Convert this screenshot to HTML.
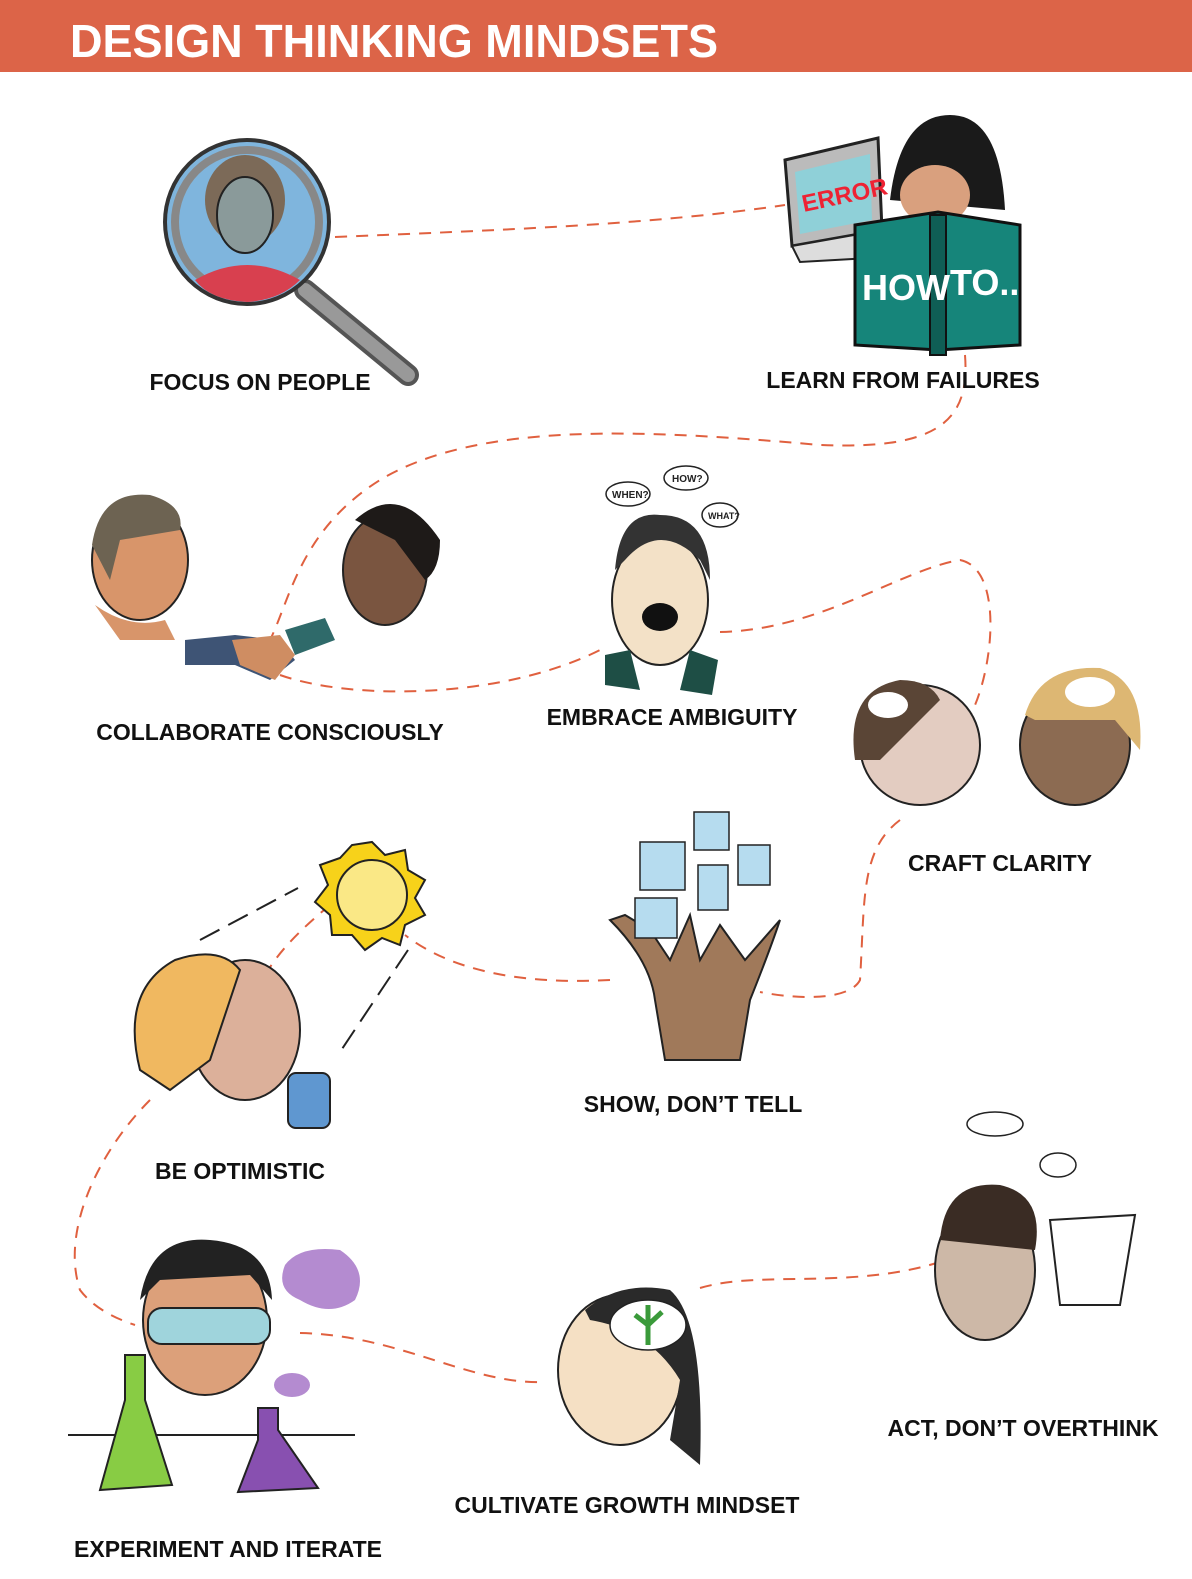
<!DOCTYPE html>
<html><head><meta charset="utf-8"><style>
html,body{margin:0;padding:0;background:#fff;}
svg{display:block}
text{font-family:"Liberation Sans",sans-serif;font-weight:bold;}
.l{font-size:23px;fill:#111;text-anchor:middle;}
</style></head><body>
<svg width="1192" height="1579" viewBox="0 0 1192 1579" xmlns="http://www.w3.org/2000/svg">
<rect x="0" y="0" width="1192" height="72" fill="#dc6448"/>
<text x="70" y="57" font-size="46" fill="#fff" textLength="648" lengthAdjust="spacingAndGlyphs">DESIGN THINKING MINDSETS</text>

<g fill="none" stroke="#e0603f" stroke-width="2" stroke-dasharray="12,9">
<path d="M335,237 C500,230 650,225 785,205"/>
<path d="M965,355 C970,420 940,450 820,445 C650,430 480,420 380,480 C300,530 290,600 270,640"/>
<path d="M280,675 C350,700 500,700 600,650"/>
<path d="M720,632 C820,630 900,570 960,560 C1010,570 990,700 960,730"/>
<path d="M900,820 C860,850 865,900 860,980 C850,1000 800,1000 760,992"/>
<path d="M610,980 C520,985 450,970 405,935"/>
<path d="M330,905 C300,930 280,950 265,975"/>
<path d="M150,1100 C100,1150 60,1230 80,1290 C95,1310 120,1320 135,1325"/>
<path d="M300,1333 C400,1335 470,1385 545,1382"/>
<path d="M700,1288 C760,1270 850,1290 940,1262"/>
</g>

<!-- magnifier -->
<line x1="305" y1="290" x2="408" y2="375" stroke="#555" stroke-width="22" stroke-linecap="round"/>
<line x1="305" y1="290" x2="408" y2="375" stroke="#999" stroke-width="14" stroke-linecap="round"/>
<circle cx="247" cy="222" r="82" fill="#7fb5dd" stroke="#333" stroke-width="4"/>
<circle cx="247" cy="222" r="72" fill="#7fb5dd" stroke="#888" stroke-width="8"/>
<ellipse cx="245" cy="200" rx="40" ry="45" fill="#7c6a58"/>
<ellipse cx="245" cy="215" rx="28" ry="38" fill="#8a9a9a" stroke="#222" stroke-width="2"/>
<path d="M195,280 Q247,250 300,280 Q280,300 247,302 Q210,300 195,280Z" fill="#d8404f"/>

<!-- laptop & book -->
<polygon points="785,160 878,138 882,230 792,246" fill="#bbb" stroke="#222" stroke-width="3"/>
<polygon points="795,172 870,154 872,220 800,234" fill="#8fd0d8"/>
<polygon points="792,246 882,230 870,258 800,262" fill="#ddd" stroke="#222" stroke-width="2"/>
<text x="800" y="205" font-size="24" fill="#e23" transform="rotate(-12 835 190)">ERROR</text>
<path d="M890,200 Q900,115 950,115 Q1000,115 1005,210Z" fill="#1a1a1a"/>
<ellipse cx="935" cy="195" rx="35" ry="30" fill="#d9a07e"/>
<path d="M855,225 L938,212 L1020,225 L1020,345 L938,350 L855,345Z" fill="#16857a" stroke="#111" stroke-width="3"/>
<rect x="930" y="215" width="16" height="140" fill="#0f5e55" stroke="#111" stroke-width="2"/>
<text x="862" y="300" font-size="36" fill="#fff">HOW</text>
<text x="950" y="295" font-size="36" fill="#fff">TO..</text>

<!-- collaborate -->
<ellipse cx="140" cy="560" rx="48" ry="60" fill="#d8956a" stroke="#222" stroke-width="2"/>
<path d="M92,545 Q100,490 150,495 Q185,505 180,530 L120,540 L110,580Z" fill="#6d6352"/>
<path d="M95,605 Q130,630 165,620 L175,640 L120,640Z" fill="#d8956a"/>
<ellipse cx="385" cy="570" rx="42" ry="55" fill="#7a5540" stroke="#222" stroke-width="2"/>
<path d="M355,520 Q400,480 440,540 Q440,570 425,580 L395,540Z" fill="#1e1a18"/>
<path d="M185,640 L235,635 L280,640 L295,660 L270,680 L235,665 L185,665Z" fill="#3e5475"/>
<path d="M232,640 L280,635 L295,655 L275,680 L240,665Z" fill="#cf8d62"/>
<path d="M285,630 L325,618 L335,640 L295,655Z" fill="#2f6a6a"/>

<!-- ambiguity -->
<ellipse cx="660" cy="600" rx="48" ry="65" fill="#f3e1c7" stroke="#222" stroke-width="2"/>
<path d="M615,570 Q620,510 660,515 Q710,515 710,580 L700,560 Q660,520 625,560Z" fill="#333"/>
<ellipse cx="660" cy="617" rx="18" ry="14" fill="#111"/>
<path d="M605,655 L630,650 L640,690 L605,685Z" fill="#1e4e45"/>
<path d="M690,650 L718,660 L712,695 L680,690Z" fill="#1e4e45"/>
<g fill="#fff" stroke="#222" stroke-width="1.5"><ellipse cx="628" cy="494" rx="22" ry="12"/><ellipse cx="686" cy="478" rx="22" ry="12"/><ellipse cx="720" cy="515" rx="18" ry="12"/></g>
<text x="612" y="498" font-size="10" fill="#222">WHEN?</text><text x="672" y="482" font-size="10" fill="#222">HOW?</text><text x="708" y="519" font-size="9" fill="#222">WHAT?</text>

<!-- craft clarity -->
<ellipse cx="920" cy="745" rx="60" ry="60" fill="#e3ccc1" stroke="#222" stroke-width="2"/>
<path d="M855,760 Q845,690 900,680 Q930,680 940,700 L880,760Z" fill="#5a4536"/>
<ellipse cx="1075" cy="745" rx="55" ry="60" fill="#8c6b52" stroke="#222" stroke-width="2"/>
<path d="M1025,715 Q1040,665 1100,668 Q1145,680 1140,750 L1115,720 L1035,720Z" fill="#ddb773"/>
<ellipse cx="888" cy="705" rx="20" ry="13" fill="#fff"/><ellipse cx="1090" cy="692" rx="25" ry="15" fill="#fff"/>

<!-- show don't tell -->
<path d="M610,920 Q650,960 655,1000 L665,1060 L740,1060 L750,1000 Q770,950 780,920 L745,960 L720,925 L700,960 L690,915 L670,960 L650,930 L625,915Z" fill="#a0795a" stroke="#222" stroke-width="2"/>
<g fill="#b6dcef" stroke="#222" stroke-width="1.5">
<rect x="640" y="842" width="45" height="48"/><rect x="694" y="812" width="35" height="38"/><rect x="738" y="845" width="32" height="40"/><rect x="698" y="865" width="30" height="45"/><rect x="635" y="898" width="42" height="40"/></g>

<!-- sun, optimistic -->
<polygon points="372,842 385,855 405,850 408,870 425,880 415,898 425,915 405,925 400,945 382,938 365,950 352,935 332,935 330,915 315,902 328,885 320,865 340,858 352,845" fill="#f7d21a" stroke="#222" stroke-width="2"/>
<circle cx="372" cy="895" r="35" fill="#fae886" stroke="#222" stroke-width="2"/>
<line x1="200" y1="940" x2="298" y2="888" stroke="#222" stroke-width="2" stroke-dasharray="22,10"/>
<line x1="408" y1="950" x2="338" y2="1055" stroke="#222" stroke-width="2" stroke-dasharray="22,10"/>
<ellipse cx="245" cy="1030" rx="55" ry="70" fill="#dcb09a" stroke="#222" stroke-width="2"/>
<path d="M140,1070 Q120,990 175,960 Q220,945 240,970 L210,1060 L170,1090Z" fill="#f0b860" stroke="#222" stroke-width="2"/>
<rect x="288" y="1073" width="42" height="55" rx="8" fill="#5f97d0" stroke="#222" stroke-width="2"/>

<!-- act don't overthink -->
<ellipse cx="985" cy="1270" rx="50" ry="70" fill="#cdb8a7" stroke="#222" stroke-width="2"/>
<path d="M940,1240 Q945,1180 1000,1185 Q1045,1195 1035,1250Z" fill="#3a2c24"/>
<path d="M1050,1220 L1135,1215 L1120,1305 L1060,1305Z" fill="#fff" stroke="#222" stroke-width="2"/>
<ellipse cx="995" cy="1124" rx="28" ry="12" fill="#fff" stroke="#222" stroke-width="1.5"/>
<ellipse cx="1058" cy="1165" rx="18" ry="12" fill="#fff" stroke="#222" stroke-width="1.5"/>

<!-- growth -->
<ellipse cx="620" cy="1370" rx="62" ry="75" fill="#f5e0c4" stroke="#222" stroke-width="2"/>
<path d="M585,1310 Q620,1280 670,1290 Q705,1320 700,1465 L670,1440 L680,1380 Q650,1330 590,1320Z" fill="#2a2a2a"/>
<ellipse cx="648" cy="1325" rx="38" ry="25" fill="#fff" stroke="#222" stroke-width="1.5"/>
<path d="M648,1345 L648,1305 M635,1315 L648,1325 L662,1312" stroke="#3a9a3a" stroke-width="5" fill="none"/>

<!-- experiment -->
<ellipse cx="205" cy="1320" rx="62" ry="75" fill="#dca07a" stroke="#222" stroke-width="2"/>
<path d="M140,1300 Q150,1235 210,1240 Q270,1245 272,1300 L250,1275 L160,1280Z" fill="#222"/>
<rect x="148" y="1308" width="122" height="36" rx="14" fill="#9fd4dc" stroke="#222" stroke-width="2"/>
<path d="M285,1265 Q300,1245 340,1250 Q370,1270 355,1300 Q330,1318 300,1300 Q275,1290 285,1265Z" fill="#b48bd0"/>
<ellipse cx="292" cy="1385" rx="18" ry="12" fill="#b48bd0"/>
<line x1="68" y1="1435" x2="355" y2="1435" stroke="#222" stroke-width="2"/>
<path d="M125,1355 L145,1355 L145,1400 L172,1485 L100,1490 L125,1400Z" fill="#88cc44" stroke="#222" stroke-width="2"/>
<path d="M258,1408 L278,1408 L278,1430 L318,1488 L238,1492 L258,1440Z" fill="#8850b0" stroke="#222" stroke-width="2"/>

<g class="l">
<text x="260" y="390">FOCUS ON PEOPLE</text>
<text x="903" y="388">LEARN FROM FAILURES</text>
<text x="270" y="740">COLLABORATE CONSCIOUSLY</text>
<text x="672" y="725">EMBRACE AMBIGUITY</text>
<text x="1000" y="871">CRAFT CLARITY</text>
<text x="693" y="1112">SHOW, DON’T TELL</text>
<text x="240" y="1179">BE OPTIMISTIC</text>
<text x="1023" y="1436">ACT, DON’T OVERTHINK</text>
<text x="627" y="1513">CULTIVATE GROWTH MINDSET</text>
<text x="228" y="1557">EXPERIMENT AND ITERATE</text>
</g>
</svg>
</body></html>
